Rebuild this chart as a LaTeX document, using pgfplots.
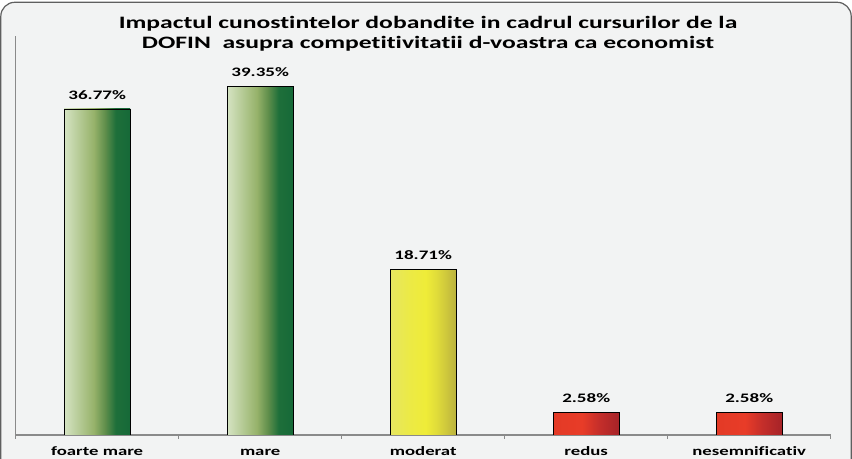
\documentclass[border=0pt]{standalone}
\usepackage{pgfplots}
\pgfplotsset{compat=1.18}
\usepackage{graphicx}
\usepackage{fontspec}
\setmainfont{Carlito}[Ligatures=NoCommon]

\definecolor{bgcol}{RGB}{242,243,243}
\definecolor{framecol}{RGB}{95,95,95}
\definecolor{axcol}{RGB}{138,138,138}
% green bars
\definecolor{ga}{RGB}{213,227,194}
\definecolor{gb}{RGB}{178,200,145}
\definecolor{gc}{RGB}{150,178,106}
\definecolor{gd}{RGB}{95,142,75}
\definecolor{ge}{RGB}{30,111,58}
\definecolor{gf}{RGB}{22,105,56}
% yellow bar
\definecolor{ya}{RGB}{230,230,96}
\definecolor{yb}{RGB}{236,234,69}
\definecolor{yc}{RGB}{239,236,56}
\definecolor{yd}{RGB}{224,220,58}
\definecolor{ye}{RGB}{187,178,62}
% red bars
\definecolor{ra}{RGB}{227,58,38}
\definecolor{rb}{RGB}{232,60,40}
\definecolor{rc}{RGB}{196,46,42}
\definecolor{rd}{RGB}{166,35,40}

% the bar is mapped onto 25bp..75bp of the shading
\pgfdeclarehorizontalshading{greenbar}{100bp}{color(0bp)=(ga); color(25bp)=(ga); color(37.5bp)=(gb); color(47.5bp)=(gc); color(56bp)=(gd); color(64bp)=(ge); color(75bp)=(gf); color(100bp)=(gf)}
\pgfdeclarehorizontalshading{yellowbar}{100bp}{color(0bp)=(ya); color(25bp)=(ya); color(40bp)=(yb); color(52bp)=(yc); color(60bp)=(yd); color(75bp)=(ye); color(100bp)=(ye)}
\pgfdeclarehorizontalshading{redbar}{100bp}{color(0bp)=(ra); color(25bp)=(ra); color(47bp)=(rb); color(60bp)=(rc); color(75bp)=(rd); color(100bp)=(rd)}

\newcommand{\sx}[1]{\scalebox{1.47}[1]{#1}}

\begin{document}
\begin{tikzpicture}[x=1bp,y=1bp]
\path[use as bounding box] (0,0) rectangle (852,459);
\draw[framecol, line width=1.2bp, fill=bgcol, rounded corners=14bp] (0.8,-40) rectangle (851.2,456.7);

\node[anchor=base, inner sep=0pt, font=\bfseries\fontsize{17.5}{19.5}\selectfont] at (428,430)
  {\sx{Impactul cunostintelor dobandite in cadrul cursurilor de la}};
\node[anchor=base, inner sep=0pt, font=\bfseries\fontsize{17.5}{19.5}\selectfont] at (428,410.7)
  {\sx{DOFIN\ \ asupra competitivitatii d-voastra ca economist}};

\begin{axis}[
    at={(15.7bp,24bp)}, anchor=south west,
    scale only axis, width=815bp, height=399bp,
    xmin=-0.5, xmax=4.5, ymin=0, ymax=45,
    axis x line=bottom, axis y line=left,
    axis line style={draw=axcol, line width=1.2bp, -},
    ytick=\empty,
    xtick={0,1,2,3,4},
    xticklabels={\sx{foarte mare}, \sx{mare}, \sx{moderat}, \sx{redus}, \sx{nesemnificativ}},
    major tick length=0pt,
    minor xtick={-0.5,0.5,1.5,2.5,3.5,4.5},
    minor tick length=4bp, tick align=outside,
    minor x tick style={draw=axcol, line width=1.2bp},
    xticklabel style={font=\bfseries\fontsize{12.8}{14}\selectfont, anchor=base, yshift=-20.7bp, inner sep=0pt},
    ybar, bar width=66bp, bar shift=0pt,
    nodes near coords={\sx{\pgfmathprintnumber[fixed,precision=2,fixed zerofill,assume math mode=true]{\pgfplotspointmeta}\%}},
    nodes near coords style={anchor=base, yshift=9.5bp, inner sep=0pt, font=\bfseries\fontsize{13}{15}\selectfont, text=black},
    every axis plot/.append style={draw=black, line width=0.8bp, shade},
]
\addplot[shading=greenbar] coordinates {(0,36.77)};
\addplot[shading=greenbar] coordinates {(1,39.35)};
\addplot[shading=yellowbar] coordinates {(2,18.71)};
\addplot[shading=redbar] coordinates {(3,2.58)};
\addplot[shading=redbar] coordinates {(4,2.58)};
\end{axis}
\end{tikzpicture}
\end{document}
